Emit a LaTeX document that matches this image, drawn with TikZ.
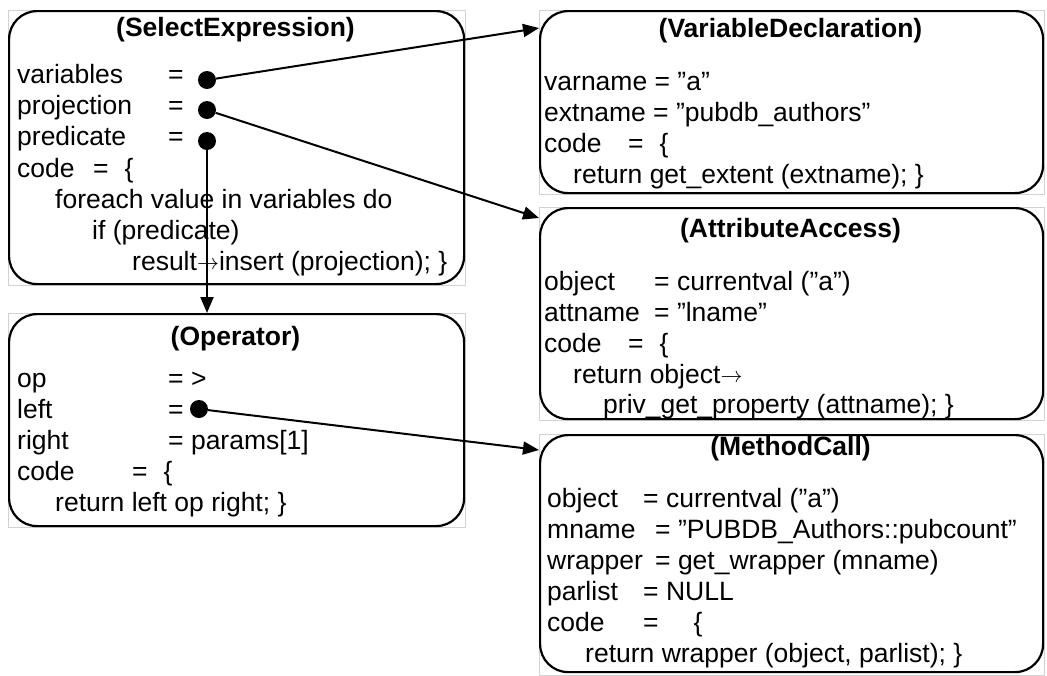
\documentclass[tikz,border=0pt]{standalone}
\usepackage{fontspec}
\setmainfont{Liberation Sans}
\usepackage{graphicx}
\usepackage{tikz}
\usetikzlibrary{arrows.meta,calc}
\tikzset{
>={Triangle[length=16pt,width=13pt]},
oggetto/.style={draw,line width=2.2pt,rounded corners=28pt,inner sep=0pt,anchor=north west},
cornice/.style={draw=gray!35,line width=0.8pt},
titolo/.style={inner sep=0pt,anchor=base,font=\fontsize{26.5}{31}\selectfont\bfseries},
riga/.style={inner sep=0pt,anchor=base west,font=\fontsize{26.5}{31}\selectfont},
punto/.style={circle,fill=black,minimum size=18pt,inner sep=0pt},
puntatore/.style={->,line width=2pt}}
\newcommand{\freccina}{\raisebox{1pt}{\resizebox{22pt}{!}{$\rightarrow$}}}

\begin{document}
\begin{tikzpicture}[x=1pt,y=-1pt]
\useasboundingbox (0,0) rectangle (1047,675);

% frames
\draw[cornice] (8,10) rectangle (465,285);
\draw[cornice] (8,313) rectangle (465,527);
\draw[cornice] (539,10) rectangle (1044,194);
\draw[cornice] (539,207) rectangle (1044,420);
\draw[cornice] (539,434) rectangle (1044,675);

% objects
\node[oggetto,minimum width=455pt,minimum height=273pt] (sel) at (8,10) {};
\node[oggetto,minimum width=455pt,minimum height=212pt] (opr) at (8,313) {};
\node[oggetto,minimum width=503pt,minimum height=182pt] (vdecl) at (539,10) {};
\node[oggetto,minimum width=503pt,minimum height=211pt] (attacc) at (539,207) {};
\node[oggetto,minimum width=503pt,minimum height=237pt] (mcall) at (539,434) {};

% SelectExpression
\node[titolo] (selT) at (235.5,36) {(SelectExpression)};
\node[riga] (s1) at (17,83) {\makebox[151pt][l]{variables}=};
\node[riga] (s2) at (17,114) {\makebox[151pt][l]{projection}=};
\node[riga] (s3) at (17,145) {\makebox[151pt][l]{predicate}=};
\node[riga] (s4) at (17,177) {\makebox[76pt][l]{code}=\hspace{16pt}\{};
\node[riga] (s5) at (17,208) {\hspace{38pt}foreach value in variables do};
\node[riga] (s6) at (17,239) {\hspace{75pt}if (predicate)};
\node[riga] (s7) at (17,270) {\hspace{115pt}result\freccina insert (projection); \}};

% Operator
\node[titolo] (oprT) at (235.5,345) {(Operator)};
\node[riga] (o1) at (17,387) {\makebox[151pt][l]{op}= >};
\node[riga] (o2) at (17,418) {\makebox[151pt][l]{left}=};
\node[riga] (o3) at (17,449) {\makebox[151pt][l]{right}= params[1]};
\node[riga] (o4) at (17,480) {\makebox[115pt][l]{code}=\hspace{16pt}\{};
\node[riga] (o5) at (17,511) {\hspace{38pt}return left op right; \}};

% VariableDeclaration
\node[titolo] (vdeclT) at (790.5,37) {(VariableDeclaration)};
\node[riga] (v1) at (544,90) {varname = ”a”};
\node[riga] (v2) at (544,121) {extname = ”pubdb\_authors”};
\node[riga] (v3) at (544,152) {\makebox[84pt][l]{code}=\hspace{16pt}\{};
\node[riga] (v4) at (544,183) {\hspace{29pt}return get\_extent (extname); \}};

% AttributeAccess
\node[titolo] (attaccT) at (790.5,237) {(AttributeAccess)};
\node[riga] (a1) at (544,290) {\makebox[110pt][l]{object}= currentval (”a”)};
\node[riga] (a2) at (544,321) {\makebox[110pt][l]{attname}= ”lname”};
\node[riga] (a3) at (544,352) {\makebox[84pt][l]{code}=\hspace{16pt}\{};
\node[riga] (a4) at (544,383) {\hspace{29pt}return object\freccina};
\node[riga] (a5) at (544,413) {\hspace{59pt}priv\_get\_property (attname); \}};

% MethodCall
\node[titolo] (mcallT) at (790.5,455) {(MethodCall)};
\node[riga] (m1) at (547,507) {\makebox[96pt][l]{object}= currentval (”a”)};
\node[riga] (m2) at (547,538) {\makebox[108pt][l]{mname}= ”PUBDB\_Authors::pubcount”};
\node[riga] (m3) at (547,569) {\makebox[108pt][l]{wrapper}= get\_wrapper (mname)};
\node[riga] (m4) at (547,600) {\makebox[96pt][l]{parlist}= NULL};
\node[riga] (m5) at (547,631) {\makebox[96pt][l]{code}=\hspace{35pt}\{};
\node[riga] (m6) at (547,662) {\hspace{38pt}return wrapper (object, parlist); \}};

% pointers
\node[punto] (dvar) at (207,80) {};
\node[punto] (dproj) at (207,110) {};
\node[punto] (dpred) at (207,141) {};
\node[punto] (dleft) at (199,409) {};

\path[puntatore] (dvar) edge ([yshift=-18pt]vdecl.north west);
\path[puntatore] (dproj) edge ([yshift=-11pt]attacc.north west);
\path[puntatore] (dpred) edge (dpred |- opr.north);
\path[puntatore] (dleft) edge ([yshift=-16pt]mcall.north west);

\end{tikzpicture}
\end{document}
